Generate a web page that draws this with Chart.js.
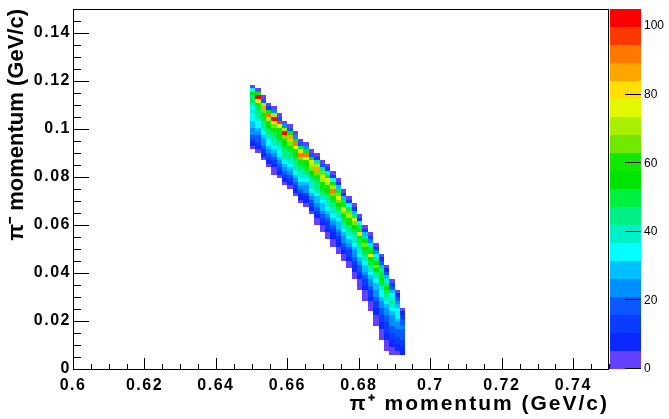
<!DOCTYPE html>
<html><head><meta charset="utf-8">
<script src="https://cdn.jsdelivr.net/npm/chart.js@4/dist/chart.umd.min.js"></script>
<style>html,body{margin:0;padding:0;background:#fff;overflow:hidden}canvas{display:block}</style>
</head><body>
<canvas id="c" width="669" height="419"></canvas>
<script>
// ---- axis ranges / binning (0.0015 GeV/c bins on both axes) ----
const X_MIN = 0.6, X_MAX = 0.75;
const Y_MIN = 0, Y_MAX = 0.15;
const Z_MIN = 0, Z_MAX = 105;
const BIN_W = 0.0015, BIN_H = 0.0015;
const N_CONTOURS = 20;

// ---- tick labels ----
const xTickValues = [0.6, 0.62, 0.64, 0.66, 0.68, 0.7, 0.72, 0.74];
const xTickLabels = ["0.6", "0.62", "0.64", "0.66", "0.68", "0.7", "0.72", "0.74"];
const yTickValues = [0, 0.02, 0.04, 0.06, 0.08, 0.1, 0.12, 0.14];
const yTickLabels = ["0", "0.02", "0.04", "0.06", "0.08", "0.1", "0.12", "0.14"];
const zTickValues = [0, 20, 40, 60, 80, 100];
const zTickLabels = ["0", "20", "40", "60", "80", "100"];

// ---- histogram data: one entry per filled x bin column ----
const colXBin   = [33,34,35,36,37,38,39,40,41,42,43,44,45,46,47,48,49,50,51,52,53,54,55,56,57,58,59,60,61];
const colTopBin = [78,77,75,73,72,70,68,67,65,63,62,60,59,57,56,54,52,49,47,45,42,39,37,34,31,28,24,21,16];
// counts per column, listed from the top bin downwards
const colCounts = [
  [4,35,55,42,48,40,36,40,35,32,30,28,25,22,18,15,10,4],
  [5,62,100,75,58,52,46,42,38,35,32,28,24,20,16,12,8,3],
  [4,18,72,88,66,58,50,46,42,38,35,30,26,22,16,12,7,3],
  [3,12,62,92,72,60,54,48,44,40,36,32,28,22,16,11,6,3],
  [4,22,72,100,82,64,58,52,46,42,38,34,30,25,20,15,10,5,2],
  [3,16,96,76,62,58,54,48,44,40,36,32,27,22,16,11,6,3],
  [4,26,72,100,68,58,54,50,46,42,38,33,28,22,17,12,7,3],
  [3,20,62,86,72,64,58,52,47,43,38,33,28,23,17,12,7,3],
  [4,22,58,92,74,62,56,50,46,42,37,32,27,22,16,11,6,3],
  [3,16,52,82,90,66,58,52,46,41,37,32,27,22,16,10,6,3],
  [4,26,62,92,76,62,55,50,45,41,36,31,26,21,15,10,6,3],
  [3,20,56,82,72,64,56,50,46,41,37,32,27,21,16,11,6,3],
  [4,14,46,72,84,66,58,52,47,43,39,35,31,27,22,17,13,9,5,3],
  [3,16,42,66,76,70,60,54,48,44,40,35,31,27,22,17,13,9,5,3],
  [4,13,38,62,80,72,62,55,50,45,41,37,33,29,24,19,15,11,7,4,2],
  [3,11,32,57,72,90,66,58,51,45,41,37,33,28,24,19,14,10,6,4,2],
  [4,13,30,52,66,76,64,55,49,44,40,35,31,27,23,18,14,10,6,4,2],
  [3,11,27,50,62,82,68,57,50,44,39,35,30,26,21,17,12,8,5,3],
  [4,13,32,52,64,72,62,53,47,42,38,34,30,25,20,15,11,7,4,2],
  [3,11,30,47,76,64,57,51,46,41,37,33,29,26,22,17,13,9,6,4,2],
  [4,15,32,50,62,80,60,52,46,41,37,33,29,25,20,16,12,8,5,3,2],
  [3,11,27,42,57,64,55,49,44,40,35,31,27,24,19,15,11,8,5,3,2],
  [4,13,24,40,52,60,74,57,48,42,37,33,29,26,22,18,14,11,8,5,3,2],
  [3,11,22,34,47,57,64,53,46,40,35,31,27,24,21,18,15,12,9,6,4,3,2],
  [4,9,20,30,42,52,62,57,48,41,36,32,28,25,22,19,16,13,11,9,7,5,3,2],
  [3,9,17,27,37,44,57,50,43,37,33,29,26,23,20,17,15,13,11,9,7,5,3,2],
  [4,11,20,27,34,40,44,38,33,29,26,23,21,19,16,14,12,10,7,5,3],
  [3,9,16,22,28,32,36,32,28,25,22,19,17,15,12,10,8,5],
  [3,7,12,16,19,22,20,18,16,14,12,9,6]
];

// ---- palette (20 contour levels, low -> high) ----
const paletteColors = [
  "#6441ff","#0a28ff","#0a3cff","#0a58ff","#0090ff",
  "#00c0ff","#00ffff","#00f0c8","#00f088","#00f040",
  "#00e400","#10e800","#70e800","#a8f000","#e0f800",
  "#ffe000","#ffa500","#ff7800","#ff3800","#ff0000"
];

// build cell list from the arrays
const cells = [];
colXBin.forEach((xb, c) => {
  colCounts[c].forEach((v, k) => {
    const yb = colTopBin[c] - k;
    cells.push({ x: X_MIN + (xb + 0.5) * BIN_W, y: Y_MIN + (yb + 0.5) * BIN_H, v: v });
  });
});

function colorFor(v) {
  let b = Math.floor((v - Z_MIN) / ((Z_MAX - Z_MIN) / N_CONTOURS));
  if (b < 0) b = 0;
  if (b >= N_CONTOURS) b = N_CONTOURS - 1;
  return paletteColors[b];
}

function withSpacing(scale, method, spacing) {
  const orig = scale[method];
  scale[method] = function (...args) {
    const ctx = this.ctx;
    ctx.save();
    ctx.letterSpacing = spacing;
    orig.apply(this, args);
    ctx.restore();
  };
}

const heatmapPlugin = {
  id: 'heatmap',
  afterLayout(chart) {
    if (chart.$spaced) return;
    chart.$spaced = true;
    withSpacing(chart.scales.x, 'drawLabels', '1.5px');
    withSpacing(chart.scales.y, 'drawLabels', '1.5px');
    withSpacing(chart.scales.x, 'drawTitle', '2px');
  },
  beforeDatasetsDraw(chart) {
    const xs = chart.scales.x, ys = chart.scales.y, ctx = chart.ctx;
    ctx.save();
    chart.data.datasets[0].data.forEach(p => {
      if (p.v <= 0) return;
      const x0 = Math.round(xs.getPixelForValue(p.x - BIN_W / 2));
      const x1 = Math.round(xs.getPixelForValue(p.x + BIN_W / 2));
      const y0 = Math.round(ys.getPixelForValue(p.y - BIN_H / 2));
      const y1 = Math.round(ys.getPixelForValue(p.y + BIN_H / 2));
      ctx.fillStyle = colorFor(p.v);
      ctx.fillRect(x0, y1, x1 - x0, y0 - y1);
    });
    ctx.restore();
  },
  afterDraw(chart) {
    const xs = chart.scales.x, ys = chart.scales.y, zs = chart.scales.z, ctx = chart.ctx;
    const a = chart.chartArea;
    ctx.save();
    // colour bar
    const barL = a.right + 1, barW = 31;
    const step = (Z_MAX - Z_MIN) / N_CONTOURS;
    for (let b = 0; b < N_CONTOURS; b++) {
      const yb = Math.round(zs.getPixelForValue(Z_MIN + b * step));
      const yt = Math.round(zs.getPixelForValue(Z_MIN + (b + 1) * step));
      ctx.fillStyle = paletteColors[b];
      ctx.fillRect(barL, yt, barW, yb - yt);
    }
    ctx.strokeStyle = '#000';
    ctx.lineWidth = 1;
    ctx.beginPath();
    zTickValues.forEach(v => {
      const y = Math.round(zs.getPixelForValue(v)) - 0.5;
      ctx.moveTo(barL + barW, y); ctx.lineTo(barL + barW - 16, y);
    });
    ctx.stroke();
    // frame
    ctx.strokeRect(Math.round(a.left) + 0.5, Math.round(a.top) + 0.5, Math.round(a.right - a.left) - 1, Math.round(a.bottom - a.top));
    // y ticks (major 0.02, minor 0.005)
    ctx.beginPath();
    for (let i = 0; i <= 30; i++) {
      const v = Y_MIN + i * 0.005;
      const y = Math.round(ys.getPixelForValue(v)) + 0.5;
      const len = (i % 4 === 0) ? 16 : 8;
      ctx.moveTo(a.left, y); ctx.lineTo(a.left + len, y);
    }
    // x ticks
    for (let i = 0; i <= 30; i++) {
      const v = X_MIN + i * 0.005;
      const x = Math.round(xs.getPixelForValue(v)) + 0.5;
      const len = (i % 4 === 0) ? 11 : 5;
      ctx.moveTo(x, a.bottom); ctx.lineTo(x, a.bottom - len);
    }
    ctx.stroke();
    ctx.restore();
  }
};

const tickFont = { family: "'Liberation Sans', Arial, sans-serif", size: 16, weight: 'bold' };
const titleFont = { family: "'Liberation Sans', Arial, sans-serif", size: 21, weight: 'bold' };
const yTitleFont = { family: "'Liberation Sans', Arial, sans-serif", size: 22, weight: 'bold' };
const noPad = s => { s.paddingTop = 0; s.paddingBottom = 0; s.paddingLeft = 0; s.paddingRight = 0; };

new Chart(document.getElementById('c'), {
  type: 'scatter',
  data: { datasets: [{ data: cells, pointRadius: 0, pointHoverRadius: 0, showLine: false }] },
  options: {
    responsive: false,
    animation: false,
    events: [],
    layout: { padding: { top: 9, left: 0, right: 0, bottom: 0 } },
    plugins: { legend: { display: false }, tooltip: { enabled: false } },
    scales: {
      x: {
        type: 'linear', position: 'bottom', min: X_MIN, max: X_MAX,
        grid: { display: false, drawTicks: false }, border: { display: false },
        afterBuildTicks: s => { s.ticks = xTickValues.map(v => ({ value: v })); },
        afterFit: s => { s.height = 50; noPad(s); },
        ticks: { font: tickFont, color: '#000', padding: 7, maxRotation: 0, autoSkip: false,
          callback: (v, i) => xTickLabels[i] },
        title: { display: true, text: 'π⁺ momentum (GeV/c)', align: 'end', font: titleFont, color: '#000', padding: { top: 0, bottom: 2 } }
      },
      y: {
        type: 'linear', position: 'left', min: Y_MIN, max: Y_MAX,
        grid: { display: false, drawTicks: false }, border: { display: false },
        afterBuildTicks: s => { s.ticks = yTickValues.map(v => ({ value: v })); },
        afterFit: s => { s.width = 73; noPad(s); },
        ticks: { font: tickFont, color: '#000', padding: 2, autoSkip: false,
          callback: (v, i) => yTickLabels[i] },
        title: { display: true, text: 'π⁻ momentum (GeV/c)', align: 'end', font: yTitleFont, color: '#000', padding: { top: 4, bottom: 0 } }
      },
      z: {
        axis: 'y', type: 'linear', position: 'right', min: Z_MIN, max: Z_MAX,
        grid: { display: false, drawTicks: false }, border: { display: false },
        afterBuildTicks: s => { s.ticks = zTickValues.map(v => ({ value: v })); },
        afterFit: s => { s.width = 60; noPad(s); },
        ticks: { font: { family: "'Liberation Sans', Arial, sans-serif", size: 12 }, color: '#000', padding: 35, autoSkip: false,
          callback: (v, i) => zTickLabels[i] }
      }
    }
  },
  plugins: [heatmapPlugin]
});
</script>
</body></html>
